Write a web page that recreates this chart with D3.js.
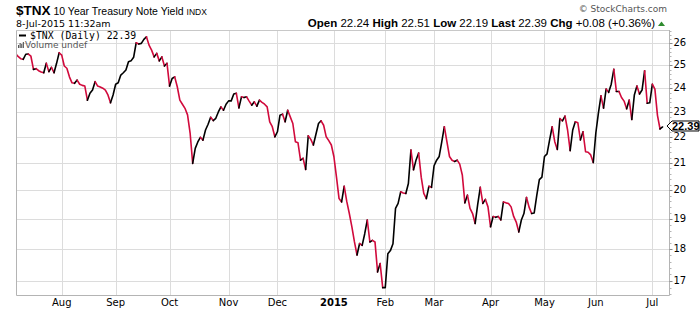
<!DOCTYPE html>
<html>
<head>
<meta charset="utf-8">
<script src="https://cdn.jsdelivr.net/npm/d3@7"></script>
<style>
body { margin: 0; background: #fff; }
svg text { font-family: "DejaVu Sans", Verdana, sans-serif; }
</style>
</head>
<body>
<div id="chart"></div>
<script>
// daily closes of $TNX, one per trading day (8-Jul-2014 .. 8-Jul-2015)
const yields = [
  25.54, 25.40, 25.30, 25.27, 25.50, 25.51, 25.41, 24.82, 24.85, 24.76,
  24.70, 24.67, 25.09, 24.72, 24.91, 24.67, 25.09, 25.57, 25.46, 24.97,
  24.87, 24.49, 24.23, 24.21, 24.35, 24.17, 24.12, 24.09, 23.49, 23.78,
  23.92, 24.28, 24.09, 24.05, 24.00, 23.92, 23.71, 23.38, 23.71, 24.17,
  24.23, 24.57, 24.67, 24.79, 25.16, 25.20, 25.36, 26.03, 25.97, 26.00,
  26.19, 26.31, 25.92, 25.69, 25.38, 25.54, 25.20, 25.38, 24.97, 25.09,
  24.09, 24.42, 24.49, 24.06, 23.49, 23.32, 23.15, 22.88, 22.15, 20.98,
  21.55, 21.80, 21.98, 21.87, 22.27, 22.50, 22.78, 22.65, 22.74, 23.00,
  23.21, 23.07, 23.32, 23.46, 23.46, 23.75, 23.78, 23.17, 23.63, 23.60,
  23.63, 23.45, 23.28, 23.42, 23.24, 23.49, 23.40, 23.32, 23.21, 22.60,
  22.40, 22.00, 22.20, 22.87, 22.91, 22.60, 23.07, 22.80, 22.53, 21.81,
  21.77, 21.10, 21.17, 20.75, 22.04, 21.90, 21.68, 22.10, 22.53, 22.64,
  22.46, 22.00, 21.85, 21.68, 21.23, 20.47, 19.70, 19.58, 20.14, 19.60,
  19.18, 18.73, 18.23, 17.81, 18.18, 18.12, 18.50, 18.96, 18.23, 18.28,
  18.23, 17.28, 17.54, 16.80, 16.80, 17.85, 17.95, 18.17, 19.36, 19.53,
  19.94, 19.90, 19.88, 20.24, 21.49, 20.74, 21.11, 21.37, 20.47, 19.88,
  19.70, 20.14, 20.10, 20.89, 21.10, 21.24, 21.80, 22.40, 21.81, 21.24,
  21.10, 21.05, 21.10, 20.95, 20.55, 19.55, 19.82, 19.36, 19.18, 18.84,
  19.50, 20.10, 19.53, 19.67, 19.41, 18.73, 19.08, 19.05, 19.08, 18.96,
  19.58, 19.55, 19.53, 19.41, 19.08, 18.89, 18.56, 18.96, 19.18, 19.74,
  19.40, 19.18, 19.20, 19.81, 20.38, 20.47, 21.24, 21.34, 21.88, 22.40,
  21.81, 21.51, 22.73, 22.64, 22.83, 22.27, 21.46, 22.27, 22.60, 22.56,
  21.88, 22.20, 21.42, 21.40, 21.30, 21.01, 22.15, 22.95, 23.67, 23.16,
  23.96, 23.82, 24.17, 24.82, 23.86, 23.86, 23.60, 23.45, 23.13, 23.49,
  22.69, 23.71, 24.09, 23.75, 23.92, 24.76, 23.36, 23.38, 24.17, 23.96,
  22.86, 22.31, 22.39
]
// index of the first trading day of each month
const monthTicks = [18, 39, 60, 83, 102, 124, 144, 163, 185, 206, 226, 248]
const monthLabels = ["Aug", "Sep", "Oct", "Nov", "Dec", "2015", "Feb", "Mar", "Apr", "May", "Jun", "Jul"]
const yTicks = [17, 18, 19, 20, 21, 22, 23, 24, 25, 26]
const quoteLabels = ["Open", "High", "Low", "Last", "Chg"]
const quoteValues = ["22.24", "22.51", "22.19", "22.39", "+0.08 (+0.36%)"]
const lastValue = 22.39

const width = 700
const height = 312
const plot = { left: 16, right: 669, top: 30, bottom: 295 }
const red = "#d10a3c"

const svg = d3.select("#chart").append("svg").attr("width", width).attr("height", height)

const x = d3.scaleLinear().domain([0, yields.length - 1]).range([15.5, 662.6])
const y = d3.scaleLog().domain([16.58, 26.63]).range([plot.bottom, plot.top])

// grid
const grid = svg.append("g")
grid.selectAll(".hg").data(yTicks).join("line")
    .attr("x1", plot.left).attr("x2", plot.right)
    .attr("y1", d => Math.round(y(d)) + 0.5).attr("y2", d => Math.round(y(d)) + 0.5)
    .attr("stroke", "#dcdcdc")
grid.selectAll(".vg").data(monthTicks).join("line")
    .attr("x1", d => Math.round(x(d)) + 0.5).attr("x2", d => Math.round(x(d)) + 0.5)
    .attr("y1", plot.top).attr("y2", plot.bottom)
    .attr("stroke", "#dcdcdc")

// frame
svg.append("path")
    .attr("d", `M${plot.left + 0.5},${plot.top}V${plot.bottom + 0.5}H${plot.right + 0.5}V${plot.top}`)
    .attr("fill", "none").attr("stroke", "#b4b4b4")
svg.append("line").attr("x1", plot.left).attr("x2", plot.right)
    .attr("y1", plot.top + 0.5).attr("y2", plot.top + 0.5).attr("stroke", "#c8c8c8")

// price line: black when up, red when down
svg.append("clipPath").attr("id", "clip").append("rect")
    .attr("x", plot.left + 1).attr("y", plot.top + 1)
    .attr("width", plot.right - plot.left - 1).attr("height", plot.bottom - plot.top - 1)
const runs = []
for (let i = 1; i < yields.length; i++) {
    const c = yields[i] < yields[i - 1] ? red : "#000"
    const last = runs[runs.length - 1]
    if (last && last.color === c) last.pts.push(i)
    else runs.push({ color: c, pts: [i - 1, i] })
}
const line = d3.line().x(i => x(i)).y(i => y(yields[i]))
svg.append("g").attr("clip-path", "url(#clip)")
    .selectAll("path").data(runs).join("path")
    .attr("d", d => line(d.pts))
    .attr("fill", "none")
    .attr("stroke", d => d.color)
    .attr("stroke-width", 1.6)
    .attr("stroke-linejoin", "round")
    .attr("stroke-linecap", "round")

// right axis
const yAxisGroup = svg.append("g").attr("transform", `translate(${plot.right + 0.5},0)`)
const minor = d3.range(166, 267, 2).map(d => d / 10).filter(d => yTicks.indexOf(d) < 0)
yAxisGroup.selectAll(".mt").data(minor).join("line")
    .attr("x1", 0).attr("x2", 2)
    .attr("y1", d => Math.round(y(d)) + 0.5).attr("y2", d => Math.round(y(d)) + 0.5)
    .attr("stroke", "#b4b4b4")
yAxisGroup.selectAll(".t").data(yTicks).join("line")
    .attr("x1", 0).attr("x2", 3)
    .attr("y1", d => Math.round(y(d)) + 0.5).attr("y2", d => Math.round(y(d)) + 0.5)
    .attr("stroke", "#888")
yAxisGroup.selectAll("text").data(yTicks).join("text")
    .attr("x", 4).attr("y", d => y(d) + 3)
    .attr("font-size", 10).attr("fill", "#000")
    .text(d => d)

// last value tag
const ty = y(lastValue) - 1
const tag = svg.append("g").attr("transform", `translate(${plot.right - 2.5},${ty})`)
tag.append("path")
    .attr("d", "M0.5,0L5.5,-5H32.5V5H5.5Z")
    .attr("fill", "#fff").attr("stroke", "#000")
tag.append("text").attr("x", 5.5).attr("y", 4)
    .style("font-family", "Liberation Sans, Arial, sans-serif")
    .attr("font-size", 11).attr("font-weight", "bold").text(lastValue.toFixed(2))

// x labels
svg.append("g").selectAll("text").data(monthTicks).join("text")
    .attr("x", d => x(d)).attr("y", 306)
    .attr("text-anchor", "middle")
    .attr("font-size", 10)
    .attr("font-weight", (d, i) => monthLabels[i] === "2015" ? "bold" : "normal")
    .text((d, i) => monthLabels[i])

// header
const title = svg.append("text").attr("x", 16).attr("y", 15).style("font-family", "Liberation Sans, Arial, sans-serif")
title.append("tspan").attr("font-size", 13.5).attr("font-weight", "bold").text("$TNX")
title.append("tspan").attr("font-size", 10.5).text(" 10 Year Treasury Note Yield ")
title.append("tspan").attr("font-size", 8.5).text("INDX")
svg.append("text").attr("x", 16).attr("y", 27).attr("font-size", 9.5).text("8-Jul-2015 11:32am")
svg.append("text").attr("x", 667).attr("y", 12).attr("text-anchor", "end")
    .attr("font-size", 9).attr("fill", "#555").text("\u00a9 StockCharts.com")

const quote = svg.append("text").attr("x", 655).attr("y", 27).attr("text-anchor", "end")
    .style("font-family", "Liberation Sans, Arial, sans-serif").attr("font-size", 11.5)
quoteLabels.forEach((l, i) => {
    quote.append("tspan").attr("font-weight", "bold").text((i ? "  " : "") + l + " ")
    quote.append("tspan").text(quoteValues[i])
})
svg.append("path").attr("d", "M658,26L661.5,21.5L665,26Z").attr("fill", "#2e8b2e")

// legend
const legend = svg.append("g")
legend.append("line").attr("x1", 19).attr("x2", 26).attr("y1", 35.5).attr("y2", 35.5)
    .attr("stroke", "#000").attr("stroke-width", 2)
legend.append("text").attr("x", 30).attr("y", 38.5)
    .style("font-family", "DejaVu Sans Mono, monospace").attr("font-size", 9.8)
    .text("$TNX (Daily) " + lastValue.toFixed(2))
legend.selectAll("rect").data([3, 5, 4, 6]).join("rect")
    .attr("x", (d, i) => 18 + i * 1.6).attr("y", d => 48 - d)
    .attr("width", 1.1).attr("height", d => d).attr("fill", "#555")
legend.append("text").attr("x", 25).attr("y", 48).attr("font-size", 9).attr("fill", "#555")
    .text("Volume undef")
</script>
</body>
</html>
